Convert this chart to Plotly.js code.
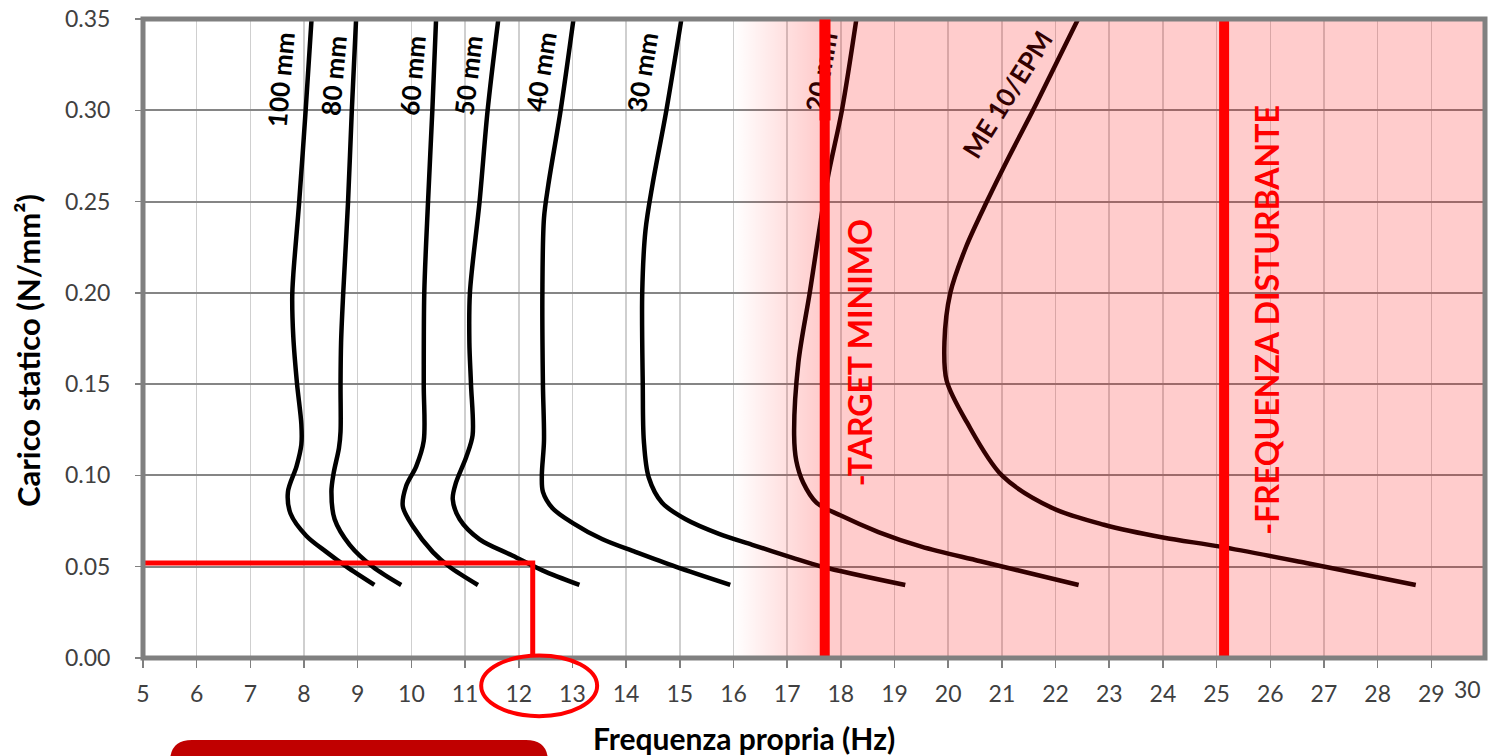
<!DOCTYPE html>
<html>
<head>
<meta charset="utf-8">
<script src="https://cdn.plot.ly/plotly-3.0.1.min.js"></script>
<style>html,body{margin:0;padding:0;background:#fff;}#chart{width:1493px;height:756px;}</style>
</head>
<body>
<div id="chart"></div>
<script>
// ---- data ----
const xTickVals = [5,6,7,8,9,10,11,12,13,14,15,16,17,18,19,20,21,22,23,24,25,26,27,28,29];
const yTickVals = [0,0.05,0.10,0.15,0.20,0.25,0.30,0.35];

const seriesNames = ["100 mm","80 mm","60 mm","50 mm","40 mm","30 mm","20 mm","ME 10/EPM"];

const f100 = [8.14, 8.03, 7.91, 7.80, 7.78, 7.80, 7.87, 7.95, 7.95, 7.86, 7.70, 7.75, 8.04, 8.42, 8.79, 9.31];
const l100 = [0.350, 0.300, 0.250, 0.210, 0.198, 0.176, 0.150, 0.128, 0.117, 0.105, 0.091, 0.079, 0.067, 0.058, 0.050, 0.040];

const f80 = [8.97, 8.89, 8.82, 8.73, 8.69, 8.68, 8.68, 8.65, 8.55, 8.51, 8.57, 8.85, 9.28, 9.81];
const l80 = [0.350, 0.300, 0.250, 0.200, 0.173, 0.150, 0.124, 0.115, 0.101, 0.091, 0.076, 0.062, 0.050, 0.040];

const f60 = [10.46, 10.39, 10.31, 10.24, 10.23, 10.23, 10.09, 9.90, 9.84, 10.03, 10.40, 10.71, 11.24];
const l60 = [0.350, 0.300, 0.250, 0.200, 0.150, 0.119, 0.105, 0.094, 0.083, 0.072, 0.058, 0.050, 0.040];

const f50 = [11.62, 11.42, 11.27, 11.09, 11.08, 11.11, 11.14, 11.02, 10.83, 10.77, 10.90, 11.27, 11.89, 12.44, 13.13];
const l50 = [0.350, 0.300, 0.250, 0.200, 0.173, 0.150, 0.122, 0.110, 0.096, 0.087, 0.076, 0.065, 0.056, 0.048, 0.040];

const f40 = [13.02, 12.78, 12.55, 12.47, 12.44, 12.45, 12.47, 12.43, 12.45, 12.63, 13.00, 13.56, 14.18, 14.92, 15.94];
const l40 = [0.350, 0.300, 0.259, 0.241, 0.200, 0.150, 0.119, 0.100, 0.091, 0.082, 0.074, 0.065, 0.058, 0.050, 0.040];

const f30 = [15.03, 14.75, 14.49, 14.36, 14.30, 14.31, 14.33, 14.42, 14.67, 15.11, 15.73, 16.35, 17.09, 17.65, 19.20];
const l30 = [0.350, 0.300, 0.259, 0.234, 0.200, 0.150, 0.119, 0.099, 0.085, 0.076, 0.068, 0.062, 0.055, 0.050, 0.040];

const f20 = [18.29, 18.02, 17.75, 17.42, 17.21, 17.13, 17.17, 17.30, 17.55, 18.00, 18.70, 19.50, 20.60, 22.43];
const l20 = [0.350, 0.300, 0.262, 0.200, 0.162, 0.122, 0.108, 0.096, 0.085, 0.078, 0.069, 0.061, 0.053, 0.040];

const fME = [22.42, 22.00, 21.58, 21.14, 20.72, 20.33, 20.04, 19.93, 19.97, 20.35, 21.00, 21.95, 22.90, 24.00, 25.07, 26.67, 28.71];
const lME = [0.350, 0.325, 0.300, 0.275, 0.250, 0.225, 0.200, 0.173, 0.152, 0.129, 0.100, 0.082, 0.073, 0.066, 0.061, 0.052, 0.040];

const targetMinimo = 17.70;      // Hz
const freqDisturbante = 25.14;   // Hz
const refLoad = 0.052;           // N/mm2
const refFreq = 12.26;           // Hz
const zoneStart = 16.0, zoneFull = 17.6, zoneEnd = 30;

// ---- chart ----
const FONT = "Lato, 'Open Sans', sans-serif";
const curves = [[f100,l100],[f80,l80],[f60,l60],[f50,l50],[f40,l40],[f30,l30],[f20,l20],[fME,lME]];
const traces = curves.map((c,i) => ({
  x: c[0], y: c[1], name: seriesNames[i], type: 'scatter', mode: 'lines',
  line: {color: '#000000', width: 4.5, shape: 'spline', smoothing: 0.9},
  hoverinfo: 'skip', showlegend: false
}));

// translucent red zone with a soft left edge
traces.push({
  x: [zoneStart, zoneEnd, zoneEnd, zoneStart, zoneStart],
  y: [0, 0, 0.35, 0.35, 0],
  type: 'scatter', mode: 'lines', fill: 'toself',
  line: {width: 0, color: 'rgba(0,0,0,0)'},
  fillcolor: 'rgba(255,0,0,0.2)',
  fillgradient: {
    type: 'horizontal', start: zoneStart, stop: zoneEnd,
    colorscale: [[0, 'rgba(255,0,0,0)'], [(zoneFull - zoneStart) / (zoneEnd - zoneStart), 'rgba(255,0,0,0.2)'], [1, 'rgba(255,0,0,0.2)']]
  },
  hoverinfo: 'skip', showlegend: false
});

const lblFont = (c) => ({family: FONT, size: 26, color: c});
const curveLabels = [
  {x: 7.57,  y: 0.317, text: '<b>' + seriesNames[0] + '</b>', textangle: -85},
  {x: 8.54,  y: 0.319, text: '<b>' + seriesNames[1] + '</b>', textangle: -85},
  {x: 10.01, y: 0.319, text: '<b>' + seriesNames[2] + '</b>', textangle: -85},
  {x: 11.05, y: 0.319, text: '<b>' + seriesNames[3] + '</b>', textangle: -83},
  {x: 12.41, y: 0.321, text: '<b>' + seriesNames[4] + '</b>', textangle: -81},
  {x: 14.30, y: 0.321, text: '<b>' + seriesNames[5] + '</b>', textangle: -81},
  {x: 17.63, y: 0.321, text: '<b>' + seriesNames[6] + '</b>', textangle: -80, dark: true},
  {x: 21.10, y: 0.309, text: '<b>' + seriesNames[7] + '</b>', textangle: -58, dark: true}
].map(a => ({
  x: a.x, y: a.y, xref: 'x', yref: 'y', text: a.text, textangle: a.textangle,
  showarrow: false, font: lblFont(a.dark ? '#330000' : '#000000')
}));

const annotations = curveLabels.concat([
  // red line covering part of the "20 mm" label
  {x: targetMinimo, y: 0.322, xref: 'x', yref: 'y', text: ' ', showarrow: false,
   bgcolor: '#FF0000', width: 10, height: 100, borderpad: 0},
  {x: 18.34, y: 0.167, xref: 'x', yref: 'y', text: '<b>-TARGET MINIMO</b>', textangle: -90,
   showarrow: false, font: {family: FONT, size: 32, color: '#FF0000'}},
  {x: 25.93, y: 0.185, xref: 'x', yref: 'y', text: '<b>-FREQUENZA DISTURBANTE</b>', textangle: -90,
   showarrow: false, font: {family: FONT, size: 32, color: '#FF0000'}},
  {x: 29.68, y: -0.048, xref: 'x', yref: 'paper', yanchor: 'middle', text: '30', showarrow: false,
   font: {family: FONT, size: 23, color: '#404040'}},
  {x: 0.448, y: -0.125, xref: 'paper', yref: 'paper', xanchor: 'center', yanchor: 'middle',
   text: '<b>Frequenza propria (Hz)</b>', showarrow: false,
   font: {family: FONT, size: 30, color: '#000000'}},
  {x: -0.0857, y: 0.482, xref: 'paper', yref: 'paper', xanchor: 'center', yanchor: 'middle',
   text: '<b>Carico statico (N/mm²)</b>', textangle: -90, showarrow: false,
   font: {family: FONT, size: 31, color: '#000000'}}
]);

// rounded dark-red box at the bottom-left
const bx0 = 0.0201, bx1 = 0.3018, byt = -0.1283, byb = -0.2, rx = 0.0164, ry = 0.0344;
const boxPath = `M ${bx0},${byb} L ${bx0},${byt - ry} Q ${bx0},${byt} ${bx0 + rx},${byt} L ${bx1 - rx},${byt} Q ${bx1},${byt} ${bx1},${byt - ry} L ${bx1},${byb} Z`;

const shapes = [
  {type: 'line', xref: 'x', yref: 'paper', x0: targetMinimo, x1: targetMinimo, y0: 0, y1: 1, layer: 'above',
   line: {color: '#FF0000', width: 10}},
  {type: 'line', xref: 'x', yref: 'paper', x0: freqDisturbante, x1: freqDisturbante, y0: 0, y1: 1, layer: 'above',
   line: {color: '#FF0000', width: 10}},
  {type: 'path', xref: 'x', yref: 'y', layer: 'above',
   path: `M 4.9,${refLoad} L ${refFreq},${refLoad} L ${refFreq},0`, line: {color: '#FF0000', width: 5}},
  {type: 'rect', xref: 'paper', yref: 'paper', x0: 0, x1: 1, y0: 0, y1: 1, layer: 'above',
   line: {color: '#808080', width: 5}},
  {type: 'circle', xref: 'x', yref: 'paper', x0: 11.30, x1: 13.46, y0: -0.091, y1: 0.004, layer: 'above',
   line: {color: '#FF0000', width: 4}},
  {type: 'path', xref: 'paper', yref: 'paper', path: boxPath, fillcolor: '#C00000', line: {width: 0}, layer: 'above'}
];

const layout = {
  width: 1493, height: 756,
  margin: {l: 143, r: 8, t: 19, b: 98, pad: 0},
  paper_bgcolor: '#ffffff', plot_bgcolor: '#ffffff',
  showlegend: false,
  xaxis: {
    range: [5, 30], tickvals: xTickVals, ticktext: xTickVals.map(String),
    showgrid: true, gridcolor: '#cfcfcf', gridwidth: 1.5, zeroline: false, showline: false,
    ticks: 'outside', ticklen: 9, tickwidth: 1.5, tickcolor: '#808080',
    tickfont: {family: FONT, size: 23, color: '#404040'}, ticklabelstandoff: 6
  },
  yaxis: {
    range: [0, 0.35], tickvals: yTickVals, tickformat: '.2f',
    showgrid: true, gridcolor: '#858585', gridwidth: 2, zeroline: false, showline: false,
    ticks: 'outside', ticklen: 7, tickwidth: 1.5, tickcolor: '#808080',
    tickfont: {family: FONT, size: 23, color: '#404040'}, ticklabelstandoff: 20
  },
  annotations: annotations,
  shapes: shapes
};

Plotly.newPlot('chart', traces, layout, {displayModeBar: false, staticPlot: true});
</script>
</body>
</html>
